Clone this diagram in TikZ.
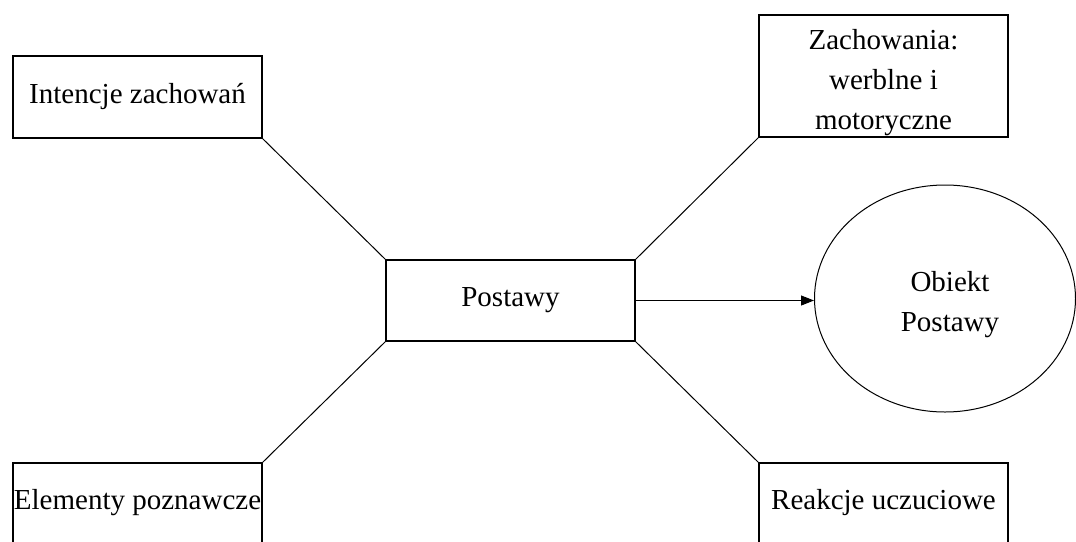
\documentclass[tikz,border=0pt]{standalone}
\usepackage{fontspec}
\setmainfont{Liberation Serif}
\usetikzlibrary{arrows.meta,shapes.geometric}
\begin{document}
\begin{tikzpicture}[x=1pt,y=-1pt,
  every node/.style={font=\fontsize{29}{40}\selectfont},
  box/.style={draw, line width=1.4pt, inner sep=0pt, minimum width=249pt, align=center},
  link/.style={line width=1pt}]
\useasboundingbox (0,0) rectangle (1076,541);
\clip (0,0) rectangle (1076,541);
\fill[white] (0,0) rectangle (1076,541);

% central concept and the four aspects around it
\node[box, minimum height=81pt] (post) at (510.5,300.5) {Postawy};
\node[box, minimum height=82pt] (int) at (137.5,97) {Intencje zachowań};
\node[box, minimum height=122pt] (zach) at (883.5,76) {};
\node[align=center] (zachtext) at (883.5,83) {Zachowania:\\werblne i\\motoryczne};
\node[box, minimum height=80pt] (elem) at (137.5,503) {Elementy poznawcze};
\node[box, minimum height=80pt] (reak) at (883.5,503) {Reakcje uczuciowe};

% attitude object
\node[draw, ellipse, line width=1pt, minimum width=261pt, minimum height=227pt,
      inner sep=0pt] (obj) at (945,298.5) {};
\node[align=center] (objtext) at (950,305) {Obiekt\\Postawy};

% connectors
\draw[link] (post.north west) -- (int.south east);
\draw[link] (post.north east) -- (zach.south west);
\draw[link] (post.south west) -- (elem.north east);
\draw[link] (post.south east) -- (reak.north west);
\draw[link, -{Triangle[length=13pt,width=10pt]}] (post.east) -- (obj.west |- post.east);
\end{tikzpicture}
\end{document}
